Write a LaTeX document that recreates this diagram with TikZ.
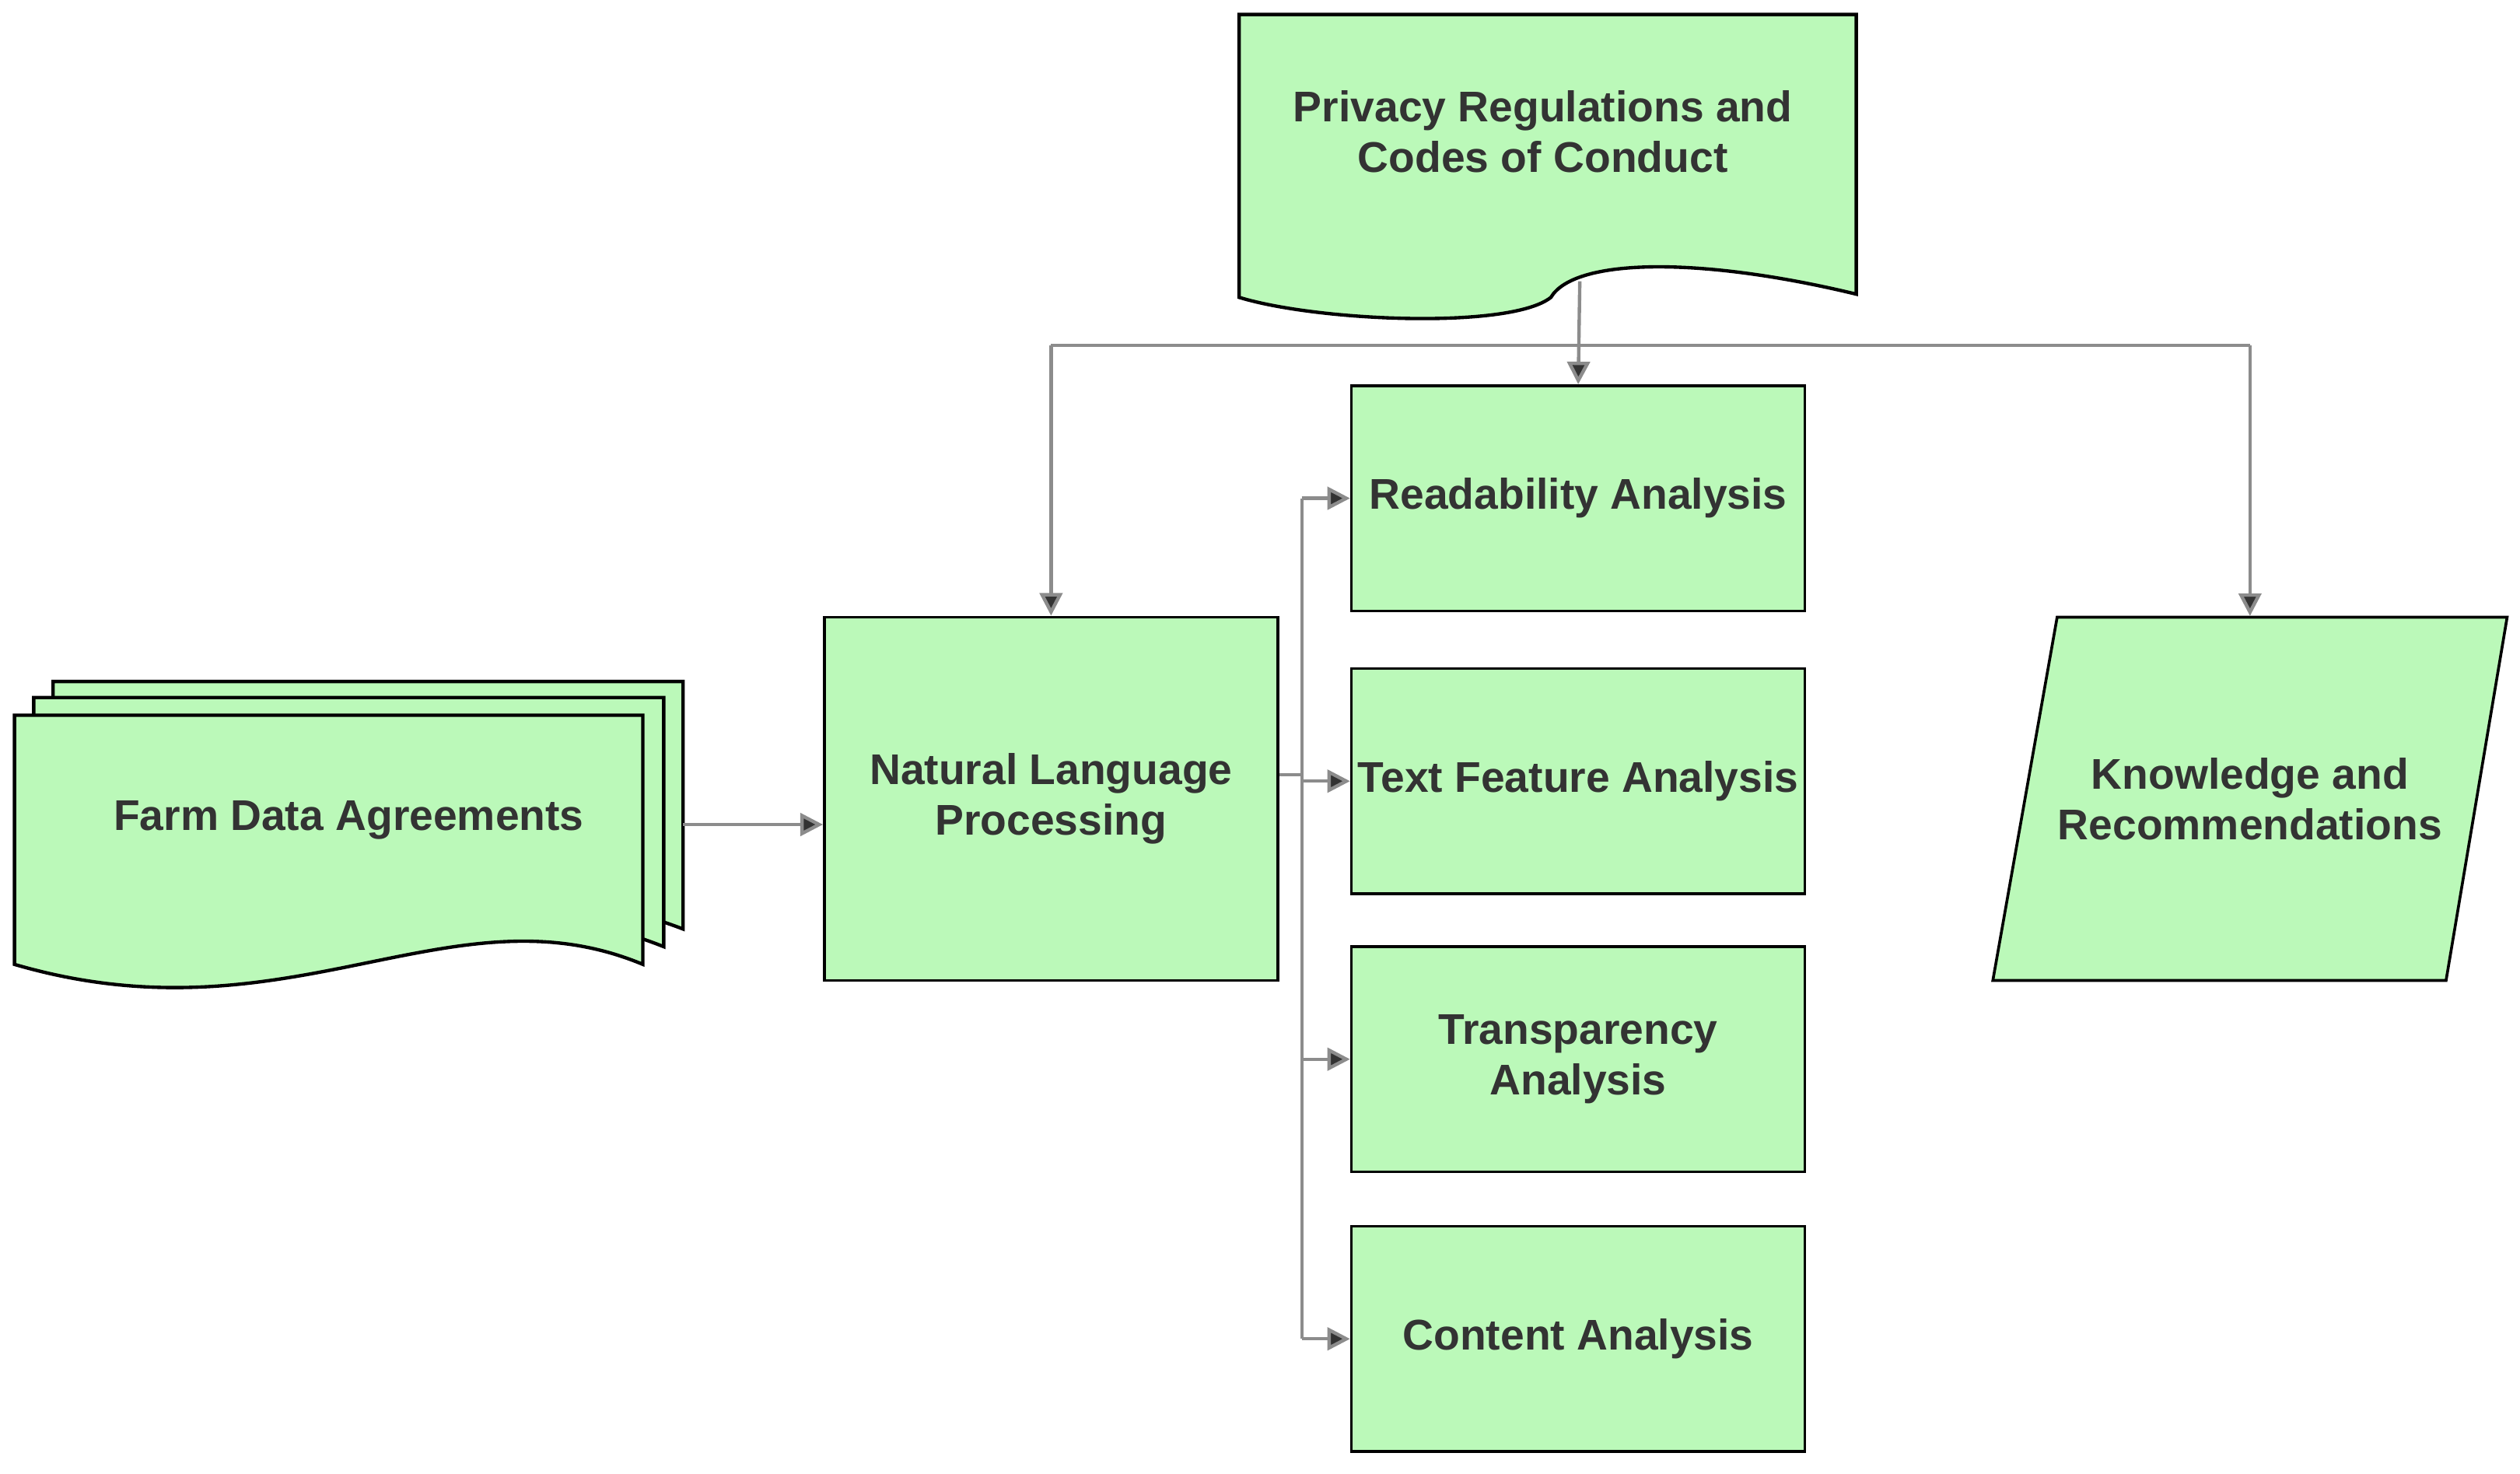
\documentclass[tikz,border=0pt]{standalone}
\usepackage{fontspec}
\setmainfont{Liberation Sans}
\usetikzlibrary{arrows.meta}
\definecolor{boxgreen}{HTML}{BBF9B9}
\definecolor{txtgray}{HTML}{333333}
\definecolor{linegray}{HTML}{8C8C8C}

\begin{document}
\begin{tikzpicture}[x=0.01cm,y=-0.01cm,
    box/.style={draw=black, fill=boxgreen, line width=0.5pt, minimum width=2.82cm, minimum height=1.4cm, inner sep=0pt},
    lbl/.style={text=txtgray, font=\fontsize{7.6}{9}\selectfont\bfseries, align=center},
    link/.style={draw=linegray, line width=0.6pt, -{Triangle[length=4pt,width=4pt,fill=txtgray]}}]
    \useasboundingbox (0,0) rectangle (1568,917);

    % documents
    \draw[fill=boxgreen, line width=0.6pt] (33,424) -- (425,424) -- (425,578) .. controls (300,530) and (200,590) .. (33,560) -- cycle;
    \draw[fill=boxgreen, line width=0.6pt] (21,434) -- (413,434) -- (413,589) .. controls (290,540) and (190,600) .. (21,572) -- cycle;
    \draw[fill=boxgreen, line width=0.6pt] (9,445) -- (400,445) -- (400,600) .. controls (280,550) and (180,650) .. (9,600) -- cycle;
    \node[lbl, minimum width=4.16cm, minimum height=1.8cm] (farm) at (217,510) {Farm Data Agreements};

    \draw[fill=boxgreen, line width=0.6pt] (771,9) -- (1155,9) -- (1155,183) .. controls (1060,160) and (980,160) .. (965,185) .. controls (940,205) and (820,200) .. (771,185) -- cycle;
    \node[lbl] (priv) at (960,82) {Privacy Regulations and\\Codes of Conduct};
    \coordinate (privbot) at (983,175);

    % processing
    \node[box, minimum height=2.26cm] (nlp) at (654,497) {};
    \node[lbl] at (nlp) {Natural Language\\Processing};
    \node[box] (read) at (982,310) {};
    \node[lbl] at (read) {Readability Analysis};
    \node[box] (feat) at (982,486) {};
    \node[lbl] at (feat) {Text Feature Analysis};
    \node[box] (trans) at (982,659) {};
    \node[lbl] at (trans) {Transparency\\Analysis};
    \node[box] (cont) at (982,833) {};
    \node[lbl] at (cont) {Content Analysis};

    % output
    \draw[fill=boxgreen, line width=0.5pt] (1280,384) -- (1560,384) -- (1522,610) -- (1240,610) -- cycle;
    \node[lbl, minimum width=2.8cm, minimum height=2.26cm] (know) at (1400,497) {Knowledge and\\Recommendations};

    % connectors
    \draw[link] (privbot) -- (read.north);
    \draw[draw=linegray, line width=0.6pt] (654,215) -- (1400,215);
    \draw[link] (654,215) -- (nlp.north);
    \draw[link] (1400,215) -- (know.north);
    \draw[link] (425,513) -- (nlp.west |- 0,513);
    \draw[draw=linegray, line width=0.6pt] (nlp.east |- 0,482) -- (810,482) (810,310) -- (810,833);
    \foreach \b in {read,feat,trans,cont}
        \draw[link] (810,0 |- \b.west) -- (\b.west);
\end{tikzpicture}
\end{document}
